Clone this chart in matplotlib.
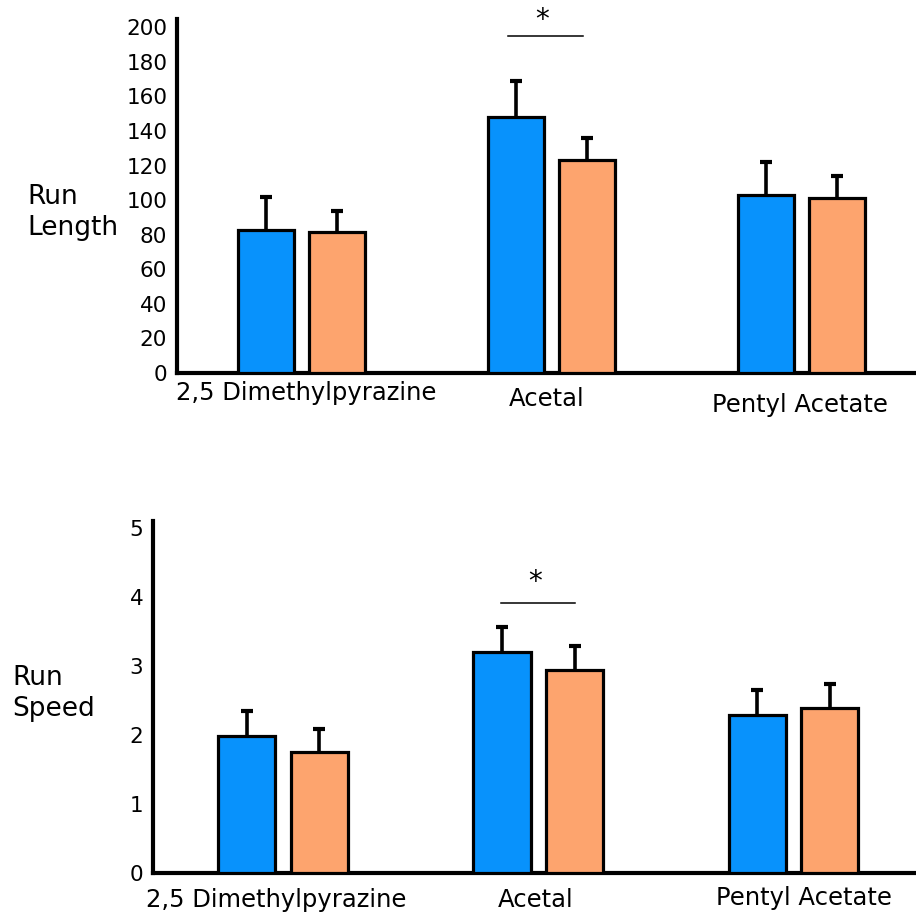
import numpy as np
import matplotlib
matplotlib.use("Agg")
import matplotlib.pyplot as plt

# ---- data ----
categories = ["2,5 Dimethylpyrazine", "Acetal", "Pentyl Acetate"]

length_blue = [82.7, 148, 103]
length_blue_err = [19, 21, 19]
length_orange = [81.5, 123, 101]
length_orange_err = [12, 13, 13]
length_ticks = [0, 20, 40, 60, 80, 100, 120, 140, 160, 180, 200]

speed_blue = [1.99, 3.2, 2.29]
speed_blue_err = [0.36, 0.37, 0.36]
speed_orange = [1.75, 2.94, 2.39]
speed_orange_err = [0.34, 0.35, 0.35]
speed_ticks = [0, 1, 2, 3, 4, 5]

BLUE = "#0892fc"
ORANGE = "#fda46e"

fig = plt.figure(figsize=(9.16, 9.17), dpi=100)


def draw_panel(ax, blue, blue_err, orange, orange_err, ticks, ylim, xlim,
               ylabel, ylabel_xy, sig, label_pos):
    x = np.arange(len(categories))
    w = 0.224
    off = 0.142
    for xs, vals, errs, col in [(x - off, blue, blue_err, BLUE),
                                (x + off, orange, orange_err, ORANGE)]:
        vals = np.asarray(vals)
        errs = np.asarray(errs)
        ax.bar(xs, vals, width=w, color=col, edgecolor="black", linewidth=2.3, zorder=3)
        # upper error only, cap only on the top end
        ax.errorbar(xs, vals, yerr=[np.zeros(len(errs)), errs], fmt="none",
                    ecolor="black", elinewidth=2.6, capsize=0, zorder=2)
        ax.plot(xs, vals + errs, ls="none", marker="_", markersize=9,
                mew=3.0, color="black", zorder=2)

    ax.set_xlim(*xlim)
    ax.set_ylim(*ylim)
    ax.set_yticks(ticks)
    ax.set_xticks([])
    ax.tick_params(axis="y", length=0, pad=7, labelsize=15.5)
    for s in ["top", "right"]:
        ax.spines[s].set_visible(False)
    for s in ["left", "bottom"]:
        ax.spines[s].set_linewidth(3.0)

    for i, (cx, cy) in enumerate(label_pos):
        ax.text(cx, cy, categories[i], transform=ax.get_xaxis_transform(),
                ha="center", va="center", fontsize=17.5)

    # significance bar over Acetal
    (x0, x1, ly), (ax_, ay) = sig
    ax.plot([x0, x1], [ly, ly], color="black", lw=1.1, clip_on=False)
    ax.text(ax_, ay, "*", ha="center", va="center", fontsize=20, clip_on=False)

    fig.text(ylabel_xy[0], ylabel_xy[1], ylabel, ha="left", va="center",
             fontsize=19, linespacing=1.25)


ax1 = fig.add_axes([0.1932, 0.5932, 1.0 - 0.1932, 0.979 - 0.5932])
draw_panel(ax1, length_blue, length_blue_err, length_orange, length_orange_err,
           length_ticks, (0, 204.6), (-0.498, 2.458), "Run\nLength", (0.03, 0.768),
           ((0.826, 1.126, 195), (0.963, 204)),
           [(0.02, -0.056), (0.98, -0.073), (1.994, -0.09)])

ax2 = fig.add_axes([0.167, 0.048, 1.0 - 0.167, 0.4318 - 0.048])
draw_panel(ax2, speed_blue, speed_blue_err, speed_orange, speed_orange_err,
           speed_ticks, (0, 5.1), (-0.51, 2.48), "Run\nSpeed", (0.013, 0.244),
           ((0.855, 1.145, 3.91), (0.988, 4.21)),
           [(-0.027, -0.077), (0.99, -0.077), (2.04, -0.071)])

fig.savefig("out.png", dpi=100)
